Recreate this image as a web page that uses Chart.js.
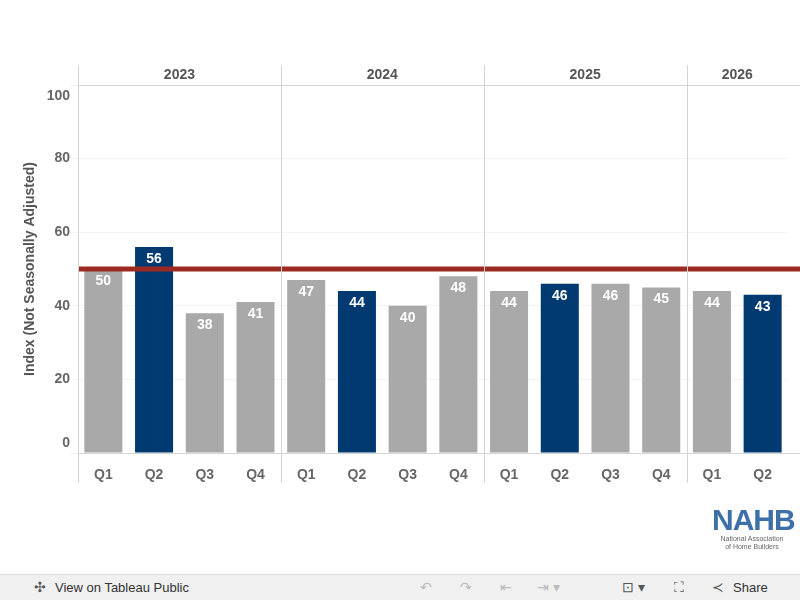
<!DOCTYPE html>
<html>
<head>
<meta charset="utf-8">
<script src="https://cdn.jsdelivr.net/npm/chart.js@4.4.0/dist/chart.umd.min.js"></script>
<style>
  body { margin: 0; width: 800px; height: 600px; overflow: hidden; background: #fff; font-family: Arial, "Liberation Sans", sans-serif; }
  #wrap { position: absolute; left: 0; top: 0; width: 800px; height: 575px; }
  #logo { position: absolute; left: 712px; top: 505px; width: 80px; text-align: center; }
  #logo .n { font-size: 30px; font-weight: bold; color: #3d6fa8; letter-spacing: -1px; line-height: 30px; }
  #logo .s { font-size: 7px; color: #666; line-height: 8px; }
  #bar { position: absolute; left: 0; top: 574px; width: 800px; height: 26px; background: #f0f0f0; border-top: 1px solid #ddd; font-size: 13px; color: #333; }
  #bar .l { position: absolute; left: 55px; top: 5px; }
  #bar .r { position: absolute; left: 733px; top: 5px; }
  #bar .ic { position: absolute; top: 4px; color: #bbb; font-size: 14px; }
</style>
</head>
<body>
<div id="wrap"><canvas id="c" width="800" height="575"></canvas></div>
<div id="logo"><div class="n">NAHB</div><div class="s">National Association<br>of Home Builders</div></div>
<div id="bar">
  <span class="ic" style="left:34px;color:#555">✣</span><span class="l">View on Tableau Public</span>
  <span class="ic" style="left:420px">↶</span><span class="ic" style="left:460px">↷</span><span class="ic" style="left:500px">⇤</span><span class="ic" style="left:537px">⇥ ▾</span>
  <span class="ic" style="left:622px;color:#555">⊡ ▾</span><span class="ic" style="left:674px;color:#555">⛶</span><span class="ic" style="left:712px;color:#555">≺</span><span class="r">Share</span>
</div>
<script>
const quarters = ['Q1','Q2','Q3','Q4','Q1','Q2','Q3','Q4','Q1','Q2','Q3','Q4','Q1','Q2'];
const years = ['2023','2024','2025','2026'];
const yearSizes = [4, 4, 4, 2];
const values = [50, 56, 38, 41, 47, 44, 40, 48, 44, 46, 46, 45, 44, 43];
const highlight = [false, true, false, false, false, true, false, false, false, true, false, false, false, true];
const yTicks = [0, 20, 40, 60, 80, 100];
const threshold = 50;

const GRAY = '#a9a9a9', NAVY = '#003a70', LINE = '#d4d4d4';
const FONT = 'Arial, "Liberation Sans"';

const overlay = {
  id: 'overlay',
  afterDatasetsDraw(chart) {
    const { ctx, chartArea: a, scales: { x, y } } = chart;
    ctx.save();
    // threshold line
    ctx.strokeStyle = '#9b2a22'; ctx.lineWidth = 5;
    ctx.beginPath(); ctx.moveTo(a.left, y.getPixelForValue(threshold)); ctx.lineTo(a.right + 12, y.getPixelForValue(threshold)); ctx.stroke();
    // bar labels
    ctx.fillStyle = '#fff'; ctx.font = 'bold 14px ' + FONT; ctx.textAlign = 'center'; ctx.textBaseline = 'top';
    chart.getDatasetMeta(0).data.forEach((b, i) => ctx.fillText(values[i], b.x, b.y + 5));
    // y tick labels, clamped inside the plot
    ctx.fillStyle = '#666'; ctx.textAlign = 'right'; ctx.textBaseline = 'middle';
    yTicks.forEach(t => {
      let py = y.getPixelForValue(t);
      py = Math.min(Math.max(py, a.top + 11), a.bottom - 10);
      ctx.fillText(t, a.left - 8, py);
    });
    // frame lines
    ctx.strokeStyle = LINE; ctx.lineWidth = 1;
    const top = a.top - 20, bot = a.bottom + 30;
    ctx.beginPath(); ctx.moveTo(a.left, a.top + 0.5); ctx.lineTo(a.right + 12, a.top + 0.5);
    ctx.moveTo(a.left, a.bottom + 0.5); ctx.lineTo(a.right + 12, a.bottom + 0.5); ctx.stroke();
    let idx = 0;
    const step = (a.right - a.left) / quarters.length;
    years.forEach((yr, k) => {
      const x0 = Math.round(a.left + idx * step) + 0.5;
      ctx.beginPath(); ctx.moveTo(x0, top); ctx.lineTo(x0, bot); ctx.stroke();
      const xm = a.left + (idx + yearSizes[k] / 2) * step;
      ctx.fillStyle = '#555'; ctx.textAlign = 'center'; ctx.textBaseline = 'middle';
      ctx.fillText(yr, xm, a.top - 10);
      idx += yearSizes[k];
    });
    ctx.restore();
  }
};

new Chart(document.getElementById('c'), {
  type: 'bar',
  data: {
    labels: quarters,
    datasets: [{ data: values, backgroundColor: highlight.map(h => h ? NAVY : GRAY), barPercentage: 0.75, categoryPercentage: 1 }]
  },
  options: {
    responsive: false, animation: false,
    layout: { padding: { top: 85, right: 12, bottom: 92, left: 0 } },
    plugins: { legend: { display: false }, tooltip: { enabled: false } },
    scales: {
      x: {
        grid: { display: false }, border: { display: false },
        ticks: { color: '#666', font: { size: 14, weight: 'bold', family: FONT }, padding: 6 },
        afterFit(s) { s.height = 30; }
      },
      y: {
        min: 0, max: 100,
        afterBuildTicks(s) { s.ticks = yTicks.map(v => ({ value: v })); },
        grid: { color: '#f3f3f3' }, border: { display: false },
        ticks: { display: false },
        title: { display: true, text: 'Index (Not Seasonally Adjusted)', color: '#555', padding: { top: 0, bottom: 0 }, font: { size: 14, weight: 'bold', family: FONT } },
        afterFit(s) { s.width = 78; }
      }
    }
  },
  plugins: [overlay, {
    id: 'titleShift',
    beforeDraw(chart) { chart.scales.y.options.title.padding = { top: 22, bottom: 0 }; }
  }]
});
</script>
</body>
</html>
